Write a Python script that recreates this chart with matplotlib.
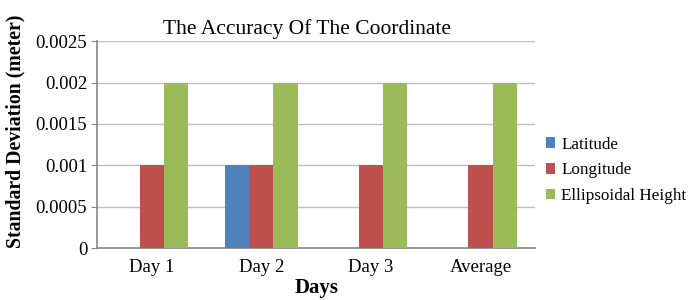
import matplotlib
matplotlib.use("Agg")
import matplotlib.pyplot as plt
import numpy as np

categories = ["Day 1", "Day 2", "Day 3", "Average"]
latitude = [0, 0.001, 0, 0]
longitude = [0.001, 0.001, 0.001, 0.001]
ellipsoidal = [0.002, 0.002, 0.002, 0.002]
series_names = ["Latitude", "Longitude", "Ellipsoidal Height"]
colors = ["#4F81BD", "#C0504D", "#9BBB59"]
yticks = [0, 0.0005, 0.001, 0.0015, 0.002, 0.0025]
ytick_labels = ["0", "0.0005", "0.001", "0.0015", "0.002", "0.0025"]

plt.rcParams['font.family'] = ['Liberation Serif', 'DejaVu Serif']

fig = plt.figure(figsize=(6.88, 3.0), dpi=100)
ax = fig.add_axes([0.141, 0.173, 0.637, 0.69])

x = np.arange(len(categories))
w = 0.22
for i, (vals, name, c) in enumerate(zip([latitude, longitude, ellipsoidal], series_names, colors)):
    ax.bar(x + (i - 1) * w, vals, width=w, color=c, label=name, zorder=3)

ax.set_xlim(-0.5, len(categories) - 0.5)
ax.set_ylim(0, 0.0025)
ax.set_yticks(yticks)
ax.set_yticklabels(ytick_labels, fontsize=13.5)
ax.set_xticks(x)
ax.set_xticklabels(categories, fontsize=13.5)
ax.tick_params(axis='x', length=0, pad=8)
ax.tick_params(axis='y', length=4, color="#868686", pad=3)
ax.grid(axis='y', color="#BFBFBF", linewidth=1, zorder=0)
for s in ["top", "right"]:
    ax.spines[s].set_visible(False)
for s in ["left", "bottom"]:
    ax.spines[s].set_color("#868686")
    ax.spines[s].set_linewidth(1.2)

ax.set_title("The Accuracy Of The Coordinate", fontsize=15.5, pad=5, x=0.479)
ax.set_ylabel("Standard Deviation (meter)", fontsize=14.2, fontweight='bold', labelpad=7, y=0.563)
ax.set_xlabel("Days", fontsize=15, fontweight='bold', labelpad=1)

ax.legend(loc="center left", bbox_to_anchor=(0.997, 0.375), frameon=False, fontsize=12.3,
          handlelength=0.55, handleheight=0.55, handletextpad=0.35, labelspacing=0.58,
          borderaxespad=0.3)

fig.savefig("out.png", dpi=100)
